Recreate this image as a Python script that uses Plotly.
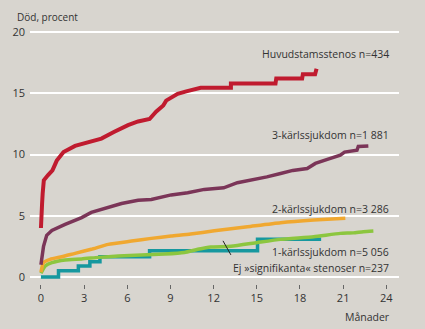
import plotly.graph_objects as go

# ---- data (months, percent dead) ----
huvud_x = [0, 0.02, 0.08, 0.12, 0.2, 0.48, 0.8, 1.1, 1.57, 2.37, 3.3, 4.2, 5.1, 6.05, 6.75, 7.55, 8.0, 8.5, 8.7, 9.1, 9.5, 10.1, 10.7, 11.1, 13.2, 13.2, 16.3, 16.35, 18.15, 18.2, 19.05, 19.15]
huvud_y = [4.0, 5.2, 6.0, 6.8, 7.9, 8.3, 8.7, 9.5, 10.2, 10.7, 11.0, 11.3, 11.85, 12.4, 12.7, 12.9, 13.5, 14.0, 14.4, 14.7, 14.95, 15.16, 15.3, 15.45, 15.45, 15.8, 15.8, 16.2, 16.2, 16.55, 16.55, 17.0]

kar3_x = [0, 0.1, 0.18, 0.4, 0.76, 1.68, 2.83, 3.5, 4.45, 5.6, 6.75, 7.67, 9.05, 10.2, 11.35, 12.7, 13.65, 14.6, 15.7, 16.65, 17.5, 18.5, 19.07, 19.9, 20.8, 21.1, 21.96, 22.05, 22.75]
kar3_y = [1.0, 1.8, 2.5, 3.4, 3.8, 4.3, 4.85, 5.27, 5.6, 6.0, 6.27, 6.33, 6.7, 6.87, 7.15, 7.28, 7.7, 7.9, 8.17, 8.45, 8.7, 8.86, 9.27, 9.6, 9.94, 10.2, 10.35, 10.65, 10.7]

kar2_x = [0, 0.18, 0.64, 1.45, 2.37, 3.5, 4.68, 6.3, 7.67, 9.05, 10.4, 12.05, 14.35, 16.65, 18.95, 21.15]
kar2_y = [0.4, 1.17, 1.44, 1.65, 1.93, 2.26, 2.66, 2.93, 3.15, 3.34, 3.5, 3.77, 4.1, 4.43, 4.65, 4.8]

ej_x = [0, 0.3, 0.76, 1.68, 2.83, 4.0, 5.37, 6.98, 8.6, 9.97, 10.9, 11.8, 13.2, 15.0, 16.65, 18.95, 20.8, 21.7, 22.4, 23.1]
ej_y = [0.3, 0.9, 1.17, 1.39, 1.47, 1.6, 1.71, 1.79, 1.87, 2.0, 2.26, 2.45, 2.5, 2.8, 3.07, 3.29, 3.56, 3.6, 3.7, 3.75]

kar1_x = [0, 1.22, 2.6, 3.4, 4.1, 7.55, 15.05, 19.47]
kar1_y = [0, 0.5, 0.9, 1.25, 1.65, 2.15, 3.07, 3.07]

x_ticks = [0, 3, 6, 9, 12, 15, 18, 21, 24]
y_ticks = [0, 5, 10, 15, 20]

labels = ["Huvudstamsstenos n=434", "3-kärlssjukdom n=1 881", "2-kärlssjukdom n=3 286",
          "1-kärlssjukdom n=5 056", "Ej »signifikanta« stenoser n=237"]
label_y = [18.23, 11.63, 5.52, 2.06, 0.71]

RED = "#c01b2f"
PURPLE = "#7b3558"
ORANGE = "#f0a830"
GREEN = "#8cc63f"
TEAL = "#16989f"
BG = "#d8d5cf"
TXT = "#333333"
FONT = "Open Sans"

fig = go.Figure()
fig.add_trace(go.Scatter(x=kar1_x, y=kar1_y, mode="lines", line=dict(color=TEAL, width=3.5, shape="hv")))
fig.add_trace(go.Scatter(x=ej_x, y=ej_y, mode="lines", line=dict(color=GREEN, width=3.5, shape="spline", smoothing=0.5)))
fig.add_trace(go.Scatter(x=kar2_x, y=kar2_y, mode="lines", line=dict(color=ORANGE, width=3.5, shape="spline", smoothing=0.5)))
fig.add_trace(go.Scatter(x=kar3_x, y=kar3_y, mode="lines", line=dict(color=PURPLE, width=3.5)))
fig.add_trace(go.Scatter(x=huvud_x, y=huvud_y, mode="lines", line=dict(color=RED, width=4)))

# pointer line for the "Ej signifikanta" label
fig.add_shape(type="line", x0=12.65, y0=2.95, x1=13.2, y1=1.8, xref="x", yref="y",
              line=dict(color="#222222", width=1))

for t, yy in zip(labels, label_y):
    fig.add_annotation(x=24.33, y=yy, xref="x", yref="y", text=t, showarrow=False,
                       xanchor="right", yanchor="middle", font=dict(family=FONT, size=10.5, color=TXT))

fig.add_annotation(x=24.4, y=-0.129, xref="x", yref="paper", text="Månader", showarrow=False,
                   xanchor="right", yanchor="middle", font=dict(family=FONT, size=10.5, color=TXT))
fig.add_annotation(x=-0.0404, y=1.043, xref="paper", yref="paper", text="Död, procent", showarrow=False,
                   xanchor="left", yanchor="middle", font=dict(family=FONT, size=10, color=TXT))

fig.update_layout(
    width=425, height=329,
    margin=dict(l=28, r=26, t=28, b=45),
    paper_bgcolor=BG, plot_bgcolor=BG,
    showlegend=False,
    font=dict(family=FONT, size=11, color=TXT),
    xaxis=dict(range=[-0.76, 24.88], tickvals=x_ticks, showgrid=False, zeroline=False,
               showline=False, ticks="outside", ticklen=4, tickwidth=1, tickcolor="#666666",
               anchor="free", position=0, tickfont=dict(family=FONT, size=11, color=TXT)),
    yaxis=dict(range=[-0.33, 20.33], tickvals=y_ticks, showgrid=True, gridcolor="#ffffff",
               gridwidth=1.6, zeroline=False, showline=False, ticks="", domain=[0.0117, 1],
               tickfont=dict(family=FONT, size=11, color=TXT), ticklabelstandoff=4),
)

fig.write_html("out.html")
